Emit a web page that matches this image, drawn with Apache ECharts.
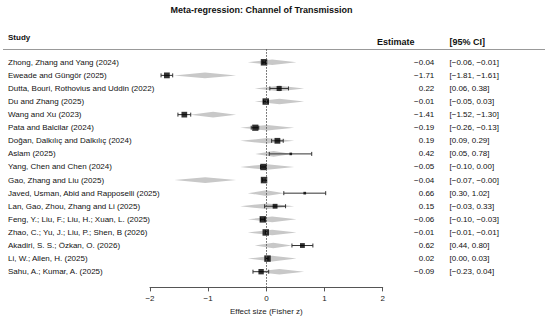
<!DOCTYPE html>
<html>
<head>
<meta charset="utf-8">
<script src="https://cdn.jsdelivr.net/npm/echarts@6/dist/echarts.min.js"></script>
<style>html,body{margin:0;padding:0;background:#fff}#c{width:550px;height:322px}</style>
</head>
<body>
<div id="c"></div>
<script>
const studies = [
  "Zhong, Zhang and Yang (2024)",
  "Eweade and Güngör (2025)",
  "Dutta, Bouri, Rothovius and Uddin (2022)",
  "Du and Zhang (2025)",
  "Wang and Xu (2023)",
  "Pata and Balcilar (2024)",
  "Doğan, Dalkılıç and Dalkılıç (2024)",
  "Aslam (2025)",
  "Yang, Chen and Chen (2024)",
  "Gao, Zhang and Liu (2025)",
  "Javed, Usman, Abid and Rapposelli (2025)",
  "Lan, Gao, Zhou, Zhang and Li (2025)",
  "Feng, Y.; Liu, F.; Liu, H.; Xuan, L. (2025)",
  "Zhao, C.; Yu, J.; Liu, P.; Shen, B (2026)",
  "Akadiri, S. S.; Özkan, O. (2026)",
  "Li, W.; Allen, H. (2025)",
  "Sahu, A.; Kumar, A. (2025)"
];
const estimate = [-0.04, -1.71, 0.22, -0.01, -1.41, -0.19, 0.19, 0.42, -0.05, -0.04, 0.66, 0.15, -0.06, -0.01, 0.62, 0.02, -0.09];
const ciLower  = [-0.06, -1.81, 0.06, -0.05, -1.52, -0.26, 0.09, 0.05, -0.10, -0.07, 0.30, -0.03, -0.10, -0.01, 0.44, 0.00, -0.23];
const ciUpper  = [-0.01, -1.61, 0.38, 0.03, -1.30, -0.13, 0.29, 0.78, 0.00, -0.00, 1.02, 0.33, -0.03, -0.01, 0.80, 0.03, 0.04];
// fitted (meta-regression) intervals shown as grey diamonds
const fitLower = [-0.32, -1.59, -0.20, -0.20, -1.31, -0.45, -0.45, -0.19, -0.45, -1.58, -0.32, -0.45, -0.32, -0.32, -0.20, -0.32, -0.20];
const fitUpper = [0.52, -0.52, 0.65, 0.65, -0.52, 0.48, 0.48, 0.44, 0.48, -0.52, 0.31, 0.48, 0.52, 0.52, 0.44, 0.52, 0.65];
const xTicks = [-2, -1, 0, 1, 2];

const FONT = "'Liberation Sans', Arial, Helvetica, sans-serif";
const fmt = v => ((v < 0 || Object.is(v, -0)) ? '\u2212' : '') + Math.abs(v).toFixed(2);

const chart = echarts.init(document.getElementById('c'), null, {renderer: 'svg'});
const rows = studies.map((s, i) => i);

const option = {
  animation: false,
  backgroundColor: '#fff',
  grid: {left: 150, right: 167.3, top: 49.2, bottom: 34.6, containLabel: false},
  xAxis: {
    type: 'value', min: xTicks[0], max: xTicks[xTicks.length - 1], interval: 1,
    axisLine: {show: true, onZero: false, lineStyle: {color: '#555', width: 1}},
    axisTick: {show: true, length: 4, lineStyle: {color: '#555'}},
    splitLine: {show: false},
    axisLabel: {color: '#222', fontSize: 8, fontFamily: FONT, margin: 7,
      formatter: v => (v < 0 ? '\u2212' : '') + Math.abs(v)},
    name: 'Effect size (Fisher z)', nameLocation: 'middle', nameGap: 20,
    nameTextStyle: {color: '#222', fontSize: 8, fontFamily: FONT}
  },
  yAxis: {type: 'value', inverse: true, min: -1, max: 17.2, show: false},
  graphic: [
    {type: 'text', x: 261.5, y: 10, style: {text: 'Meta-regression: Channel of Transmission', font: 'bold 9px ' + FONT, fill: '#111', align: 'center', verticalAlign: 'middle'}},
    {type: 'text', x: 8, y: 37, style: {text: 'Study', font: 'bold 8px ' + FONT, fill: '#111', align: 'left', verticalAlign: 'middle'}},
    {type: 'text', x: 377, y: 42, style: {text: 'Estimate', font: 'bold 9px ' + FONT, fill: '#111', align: 'left', verticalAlign: 'middle'}},
    {type: 'text', x: 449.5, y: 42, style: {text: '[95% CI]', font: 'bold 9px ' + FONT, fill: '#111', align: 'left', verticalAlign: 'middle'}},
    {type: 'line', shape: {x1: 3, y1: 49.5, x2: 545, y2: 49.5}, style: {stroke: '#999', lineWidth: 1}}
  ],
  series: [
    {
      type: 'custom', name: 'fit', silent: true,
      data: rows.map(i => [fitLower[i], fitUpper[i], i]),
      encode: {x: [0, 1], y: 2},
      renderItem: (params, api) => {
        const lo = api.coord([api.value(0), api.value(2)]);
        const hi = api.coord([api.value(1), api.value(2)]);
        const mx = (lo[0] + hi[0]) / 2, y = lo[1], h = 2.8;
        return {type: 'polygon', shape: {points: [[lo[0], y], [mx, y - h], [hi[0], y], [mx, y + h]]},
          style: {fill: '#c8c8c8', stroke: null}};
      }
    },
    {
      type: 'custom', name: 'ci', silent: true,
      data: rows.map(i => [ciLower[i], ciUpper[i], i]),
      encode: {x: [0, 1], y: 2},
      renderItem: (params, api) => {
        const lo = api.coord([api.value(0), api.value(2)]);
        const hi = api.coord([api.value(1), api.value(2)]);
        const y = lo[1], c = 2, st = {stroke: '#333', lineWidth: 1};
        return {type: 'group', children: [
          {type: 'line', shape: {x1: lo[0], y1: y, x2: hi[0], y2: y}, style: st},
          {type: 'line', shape: {x1: lo[0], y1: y - c, x2: lo[0], y2: y + c}, style: st},
          {type: 'line', shape: {x1: hi[0], y1: y - c, x2: hi[0], y2: y + c}, style: st}
        ]};
      }
    },
    {
      type: 'scatter', name: 'estimate', silent: true,
      data: rows.map(i => [estimate[i], i]),
      symbol: 'rect',
      symbolSize: (val, p) => {
        const w = ciUpper[p.dataIndex] - ciLower[p.dataIndex];
        return Math.max(2.5, Math.min(6.5, 7 - 6 * w));
      },
      itemStyle: {color: '#000'},
      markLine: {silent: true, symbol: 'none', label: {show: false},
        lineStyle: {type: [1.5, 1.5], color: '#555', width: 1},
        data: [{xAxis: 0}]}
    },
    {
      type: 'custom', name: 'text', silent: true,
      data: rows.map(i => [0, i]),
      renderItem: (params, api) => {
        const i = params.dataIndex;
        const y = api.coord([0, i])[1];
        const base = {font: '8px ' + FONT, fill: '#111', verticalAlign: 'middle'};
        return {type: 'group', children: [
          {type: 'text', x: 8, y: y, style: Object.assign({text: studies[i], align: 'left'}, base)},
          {type: 'text', x: 434.3, y: y, style: Object.assign({text: fmt(estimate[i]), align: 'right'}, base)},
          {type: 'text', x: 449.5, y: y, style: Object.assign({text: '[' + fmt(ciLower[i]) + ', ' + fmt(ciUpper[i]) + ']', align: 'left'}, base)}
        ]};
      }
    }
  ]
};
chart.setOption(option);
</script>
</body>
</html>
